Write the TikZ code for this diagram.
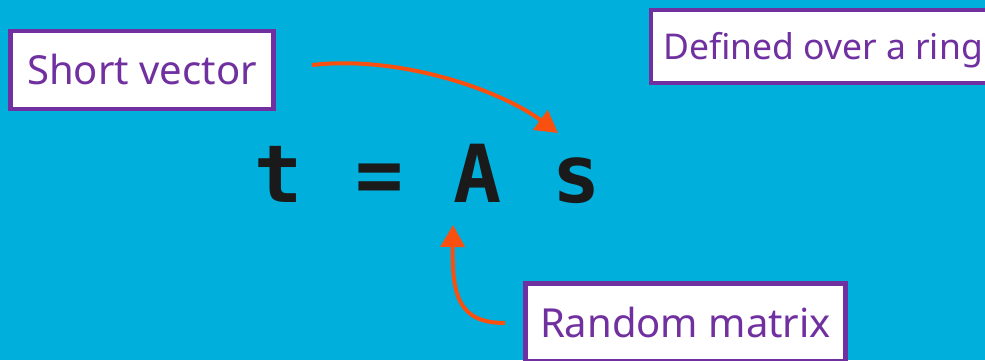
\documentclass[tikz,border=0pt]{standalone}
\usepackage{fontspec}
\setmainfont{Noto Sans}
\newfontfamily\eqfont{DejaVu Sans Mono}
\usetikzlibrary{arrows.meta}
\definecolor{bgcyan}{RGB}{0,175,219}
\definecolor{lblpurple}{RGB}{112,48,160}
\definecolor{arrorange}{RGB}{249,80,16}
\definecolor{eqblack}{RGB}{26,26,26}
\tikzset{
  lbl/.style={draw=lblpurple, line width=4.5pt, fill=white, text=lblpurple,
    inner sep=0pt, font=\fontsize{40}{48}\selectfont, text height=29pt, text depth=0pt,
    align=center},
  eqchar/.style={anchor=base, text=eqblack, inner sep=0pt,
    font=\eqfont\bfseries\fontsize{80}{90}\selectfont},
  arr/.style={draw=arrorange, line width=4pt,
    -{Triangle[length=22pt,width=24pt]}}
}
\begin{document}
\begin{tikzpicture}[x=1pt,y=-1pt]
\fill[bgcyan] (0,0) rectangle (985,360);
\useasboundingbox (0,0) rectangle (985,360);
\node[lbl, minimum width=263pt, minimum height=78pt] (sv) at (142,70) {Short vector};
\node[lbl, minimum width=344pt, minimum height=73pt, font=\fontsize{35.5}{42}\selectfont, text height=25.5pt] (ring) at (823,46.5) {Defined over a ring};
\node[lbl, minimum width=320pt, minimum height=78pt] (rm) at (685.5,322.5) {Random matrix};
\node[eqchar] (t) at (279,202) {t};
\node[eqchar] (eq) at (380,202) {=};
\node[eqchar] (A) at (478,202) {A};
\node[eqchar] (s) at (577,202) {s};
\coordinate (a1s) at (312,65);
\coordinate (a1e) at (558,133);
\coordinate (a2s) at (505,323);
\coordinate (a2e) at (453,225);
\draw[arr] (a1s) .. controls (400,55) and (500,90) .. (a1e);
\draw[arr] (a2s) .. controls (458,323) and (452,295) .. (a2e);
\end{tikzpicture}
\end{document}
